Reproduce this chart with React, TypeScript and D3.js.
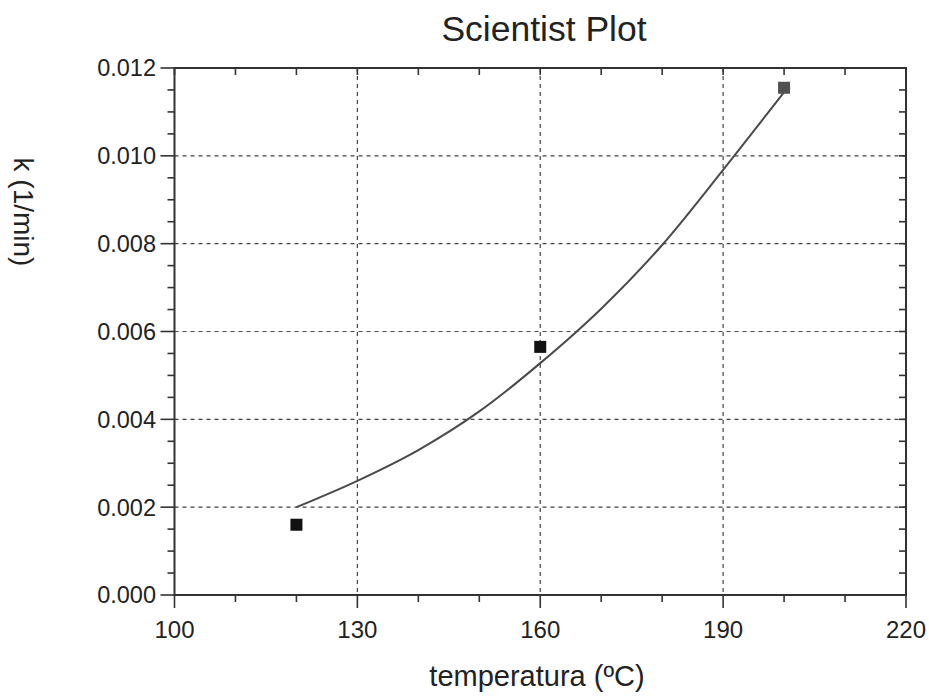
import React from "react";
import * as d3 from "d3";

const pointTemps = [120, 160, 200];
const pointK = [0.0016, 0.00565, 0.01155];
const pointColors = ["#111111", "#111111", "#505050"];

const fitTemps = [120, 130, 140, 150, 160, 170, 180, 190, 200];
const fitK = [0.002, 0.0026, 0.0033, 0.00418, 0.00528, 0.00652, 0.00797, 0.00968, 0.01145];

const xMajor = [100, 130, 160, 190, 220];
const xMinor = [110, 120, 140, 150, 170, 180, 200, 210];
const yMajor = [0, 0.002, 0.004, 0.006, 0.008, 0.01, 0.012];
const yMinor = d3.range(0, 0.01201, 0.0005).filter((v) => Math.abs(v / 0.002 - Math.round(v / 0.002)) > 1e-6);

const W = 929, H = 698;
const L = 174.5, R = 906, T = 68, B = 595;
const FONT = "Arial, 'Liberation Sans', Helvetica, sans-serif";

export default function App() {
  const x = d3.scaleLinear().domain([100, 220]).range([L, R]);
  const y = d3.scaleLinear().domain([0, 0.012]).range([B, T]);
  const line = d3
    .line<number>()
    .x((_, i) => x(fitTemps[i]))
    .y((d) => y(d))
    .curve(d3.curveMonotoneX);
  const fmt = d3.format(".3f");
  const axisColor = "#333";
  const sq = 12;
  return (
    <svg width={W} height={H} style={{ position: "absolute", left: 0, top: 0, background: "#fff" }} fontFamily={FONT}>
      <rect x={0} y={0} width={W} height={H} fill="#fff" />
      {/* grid */}
      {xMajor.slice(1, -1).map((v) => (
        <line key={"gx" + v} x1={x(v)} x2={x(v)} y1={T} y2={B} stroke="#444" strokeWidth={1.2} strokeDasharray="4,4" />
      ))}
      {yMajor.slice(1, -1).map((v) => (
        <line key={"gy" + v} x1={L} x2={R} y1={y(v)} y2={y(v)} stroke="#444" strokeWidth={1.2} strokeDasharray="4,4" />
      ))}
      {/* fit curve */}
      <path d={line(fitK) || ""} fill="none" stroke="#4a4a4a" strokeWidth={2} />
      {/* points */}
      {pointTemps.map((t, i) => (
        <rect key={"p" + i} x={x(t) - sq / 2} y={y(pointK[i]) - sq / 2} width={sq} height={sq} fill={pointColors[i]} />
      ))}
      {/* frame */}
      <rect x={L} y={T} width={R - L} height={B - T} fill="none" stroke={axisColor} strokeWidth={2} />
      {/* x ticks */}
      {xMajor.map((v) => (
        <g key={"xt" + v}>
          <line x1={x(v)} x2={x(v)} y1={B} y2={B + 13} stroke={axisColor} strokeWidth={1.6} />
          <line x1={x(v)} x2={x(v)} y1={T} y2={T + 7} stroke={axisColor} strokeWidth={1.6} />
          <text x={x(v)} y={638} textAnchor="middle" fontSize={24} fill="#222">
            {v}
          </text>
        </g>
      ))}
      {xMinor.map((v) => (
        <g key={"xm" + v}>
          <line x1={x(v)} x2={x(v)} y1={B} y2={B + 7} stroke={axisColor} strokeWidth={1.6} />
          <line x1={x(v)} x2={x(v)} y1={T} y2={T + 7} stroke={axisColor} strokeWidth={1.6} />
        </g>
      ))}
      {/* y ticks */}
      {yMajor.map((v) => (
        <g key={"yt" + v}>
          <line x1={L - 14} x2={L} y1={y(v)} y2={y(v)} stroke={axisColor} strokeWidth={1.6} />
          <line x1={R - 7} x2={R} y1={y(v)} y2={y(v)} stroke={axisColor} strokeWidth={1.6} />
          <text x={156} y={y(v)} dy="0.36em" textAnchor="end" fontSize={23.5} fill="#222">
            {fmt(v)}
          </text>
        </g>
      ))}
      {yMinor.map((v) => (
        <g key={"ym" + v}>
          <line x1={L - 7} x2={L} y1={y(v)} y2={y(v)} stroke={axisColor} strokeWidth={1.6} />
          <line x1={R - 7} x2={R} y1={y(v)} y2={y(v)} stroke={axisColor} strokeWidth={1.6} />
        </g>
      ))}
      {/* title */}
      <text x={544} y={41} textAnchor="middle" fontSize={35.5} fill="#222">
        Scientist Plot
      </text>
      {/* x label */}
      <text x={537} y={686} textAnchor="middle" fontSize={29} fill="#222">
        temperatura (ºC)
      </text>
      {/* y label */}
      <text transform="translate(14,212) rotate(90)" textAnchor="middle" fontSize={28} fill="#222">
        k (1/min)
      </text>
    </svg>
  );
}
